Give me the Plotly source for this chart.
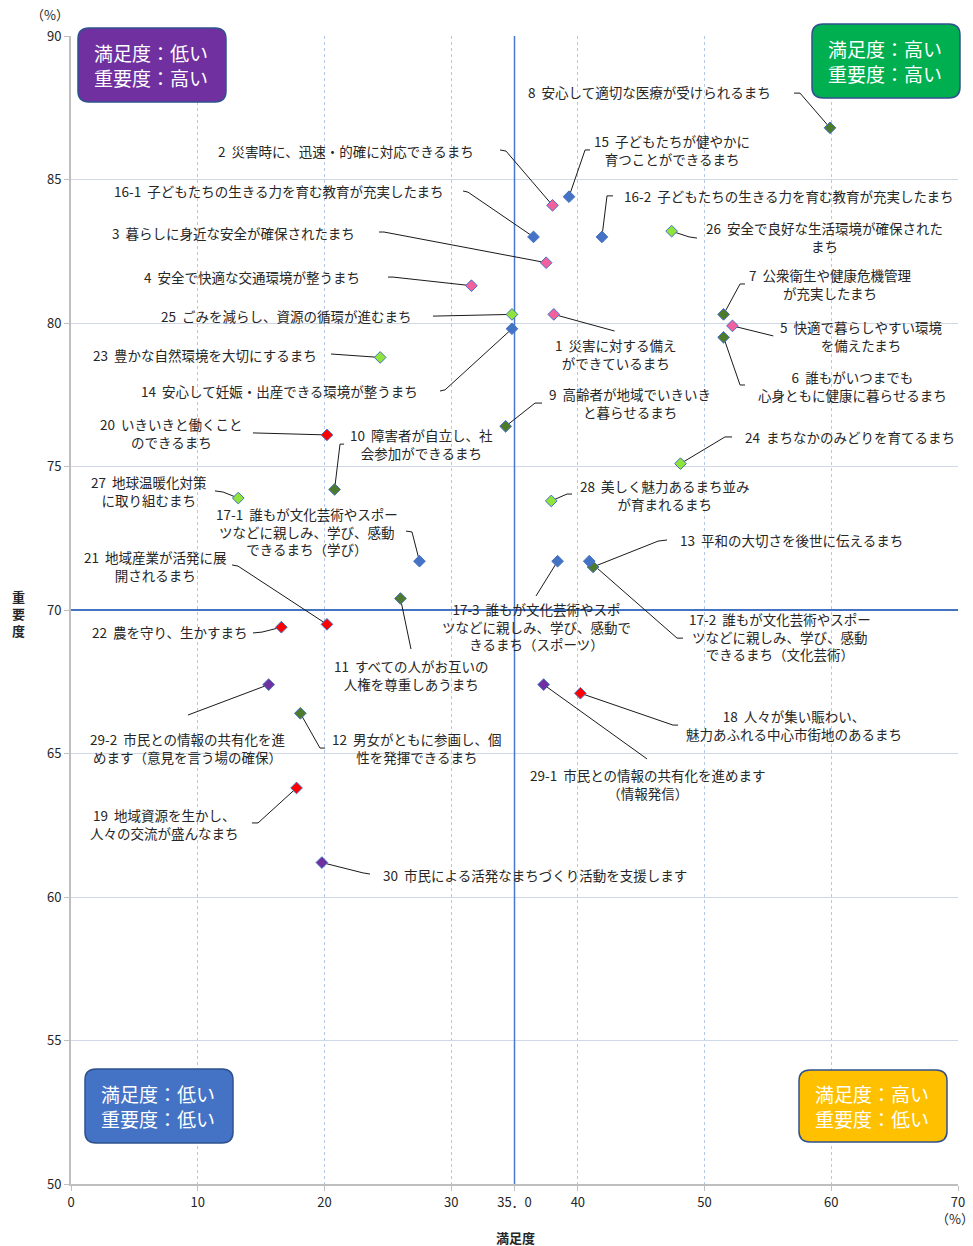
import plotly.graph_objects as go

# -------------------------
# DATA (満足度 / 重要度, %)
# -------------------------
item_ids = ["1", "2", "3", "4", "5",
            "6", "7", "8", "9", "10", "11", "12", "13",
            "14", "15", "16-1", "16-2", "17-1", "17-2", "17-3",
            "18", "19", "20", "21", "22",
            "23", "24", "25", "26", "27", "28",
            "29-1", "29-2", "30"]

satisfaction = [38.1, 38.0, 37.5, 31.6, 52.2,
                51.5, 51.5, 59.9, 34.3, 20.8, 26.0, 18.1, 41.2,
                34.8, 39.3, 36.5, 41.9, 27.5, 40.9, 38.4,
                40.2, 17.8, 20.2, 20.2, 16.6,
                24.4, 48.1, 34.8, 47.4, 13.2, 37.9,
                37.3, 15.6, 19.8]

importance = [80.3, 84.1, 82.1, 81.3, 79.9,
              79.5, 80.3, 86.8, 76.4, 74.2, 70.4, 66.4, 71.5,
              79.8, 84.4, 83.0, 83.0, 71.7, 71.7, 71.7,
              67.1, 63.8, 76.1, 69.5, 69.4,
              78.8, 75.1, 80.3, 83.2, 73.9, 73.8,
              67.4, 67.4, 61.2]

groups = ["pink"] * 5 + ["dgreen"] * 8 + ["blue"] * 7 + ["red"] * 5 + \
         ["lgreen"] * 6 + ["purple"] * 3

labels = [
    "1  災害に対する備え<br>ができているまち",
    "2  災害時に、迅速・的確に対応できるまち",
    "3  暮らしに身近な安全が確保されたまち",
    "4  安全で快適な交通環境が整うまち",
    "5  快適で暮らしやすい環境<br>を備えたまち",
    "6  誰もがいつまでも<br>心身ともに健康に暮らせるまち",
    "7  公衆衛生や健康危機管理<br>が充実したまち",
    "8  安心して適切な医療が受けられるまち",
    "9  高齢者が地域でいきいき<br>と暮らせるまち",
    "10  障害者が自立し、社<br>会参加ができるまち",
    "11  すべての人がお互いの<br>人権を尊重しあうまち",
    "12  男女がともに参画し、個<br>性を発揮できるまち",
    "13  平和の大切さを後世に伝えるまち",
    "14  安心して妊娠・出産できる環境が整うまち",
    "15  子どもたちが健やかに<br>育つことができるまち",
    "16-1  子どもたちの生きる力を育む教育が充実したまち",
    "16-2  子どもたちの生きる力を育む教育が充実したまち",
    "17-1  誰もが文化芸術やスポー<br>ツなどに親しみ、学び、感動<br>できるまち（学び）",
    "17-2  誰もが文化芸術やスポー<br>ツなどに親しみ、学び、感動<br>できるまち（文化芸術）",
    "17-3  誰もが文化芸術やスポ<br>ツなどに親しみ、学び、感動で<br>きるまち（スポーツ）",
    "18  人々が集い賑わい、<br>魅力あふれる中心市街地のあるまち",
    "19  地域資源を生かし、<br>人々の交流が盛んなまち",
    "20  いきいきと働くこと<br>のできるまち",
    "21  地域産業が活発に展<br>開されるまち",
    "22  農を守り、生かすまち",
    "23  豊かな自然環境を大切にするまち",
    "24  まちなかのみどりを育てるまち",
    "25  ごみを減らし、資源の循環が進むまち",
    "26  安全で良好な生活環境が確保された<br>まち",
    "27  地球温暖化対策<br>に取り組むまち",
    "28  美しく魅力あるまち並み<br>が育まれるまち",
    "29-1  市民との情報の共有化を進めます<br>（情報発信）",
    "29-2  市民との情報の共有化を進<br>めます（意見を言う場の確保）",
    "30  市民による活発なまちづくり活動を支援します",
]

x_ticks = [0, 10, 20, 30, 35, 40, 50, 60, 70]
x_tick_text = ["0", "10", "20", "30", "35．0", "40", "50", "60", "70"]
y_ticks = [50, 55, 60, 65, 70, 75, 80, 85, 90]

# -------------------------
# STYLE / LAYOUT
# -------------------------
COLORS = {"pink": "#F2609E", "dgreen": "#4E7A2C", "blue": "#4472C4",
          "red": "#FF0000", "lgreen": "#8FE33B", "purple": "#7030A0"}
FONT = "Noto Sans CJK JP"
W, H = 973, 1246
L, R, T, B = 71, 15, 36, 62

# label placement (axis units): text centre, leader start, leader elbow
label_pos = {
    "1": (43.0, 78.92, 42.9, 79.72, None, None),
    "2": (21.7, 85.99, 33.86, 86.03, 34.33, 85.99),
    "3": (12.82, 83.14, 24.31, 83.17, 24.7, 83.17),
    "4": (14.28, 81.6, 25.02, 81.6, 25.41, 81.6),
    "5": (62.31, 79.55, 55.42, 79.55, None, None),
    "6": (61.64, 77.8, 53.19, 77.84, 52.8, 77.84),
    "7": (59.94, 81.36, 53.19, 81.36, 52.8, 81.36),
    "8": (45.66, 88.05, 57.06, 88.01, 57.53, 88.01),
    "9": (44.12, 77.2, 37.17, 77.21, 36.62, 77.21),
    "10": (27.66, 75.78, 21.55, 75.78, 21.23, 75.78),
    "11": (26.87, 67.74, 26.83, 68.64, None, None),
    "12": (27.27, 65.19, 20.05, 65.19, 19.65, 65.19),
    "13": (56.86, 72.44, 47.04, 72.44, 46.33, 72.4),
    "14": (16.42, 77.63, 29.12, 77.63, 29.52, 77.67),
    "15": (47.43, 86.03, 40.96, 86.03, 40.57, 86.03),
    "16-1": (16.45, 84.6, 30.94, 84.6, 31.33, 84.56),
    "16-2": (56.63, 84.43, 42.77, 84.43, 42.3, 84.43),
    "17-1": (18.59, 72.72, 26.44, 72.75, 26.91, 72.72),
    "17-2": (55.95, 69.06, 48.3, 69.02, 47.83, 69.02),
    "17-3": (36.7, 69.41, 36.7, 70.49, None, None),
    "18": (57.06, 65.98, 47.91, 65.99, 47.51, 65.99),
    "19": (7.38, 62.56, 14.28, 62.58, 14.76, 62.58),
    "20": (7.97, 76.18, 14.36, 76.17, None, None),
    "21": (6.67, 71.53, 12.71, 71.57, 13.18, 71.53),
    "22": (7.81, 69.23, 14.36, 69.2, 15.07, 69.23),
    "23": (10.58, 78.89, 20.52, 78.92, None, None),
    "24": (61.48, 76.03, 52.17, 76.03, 51.61, 76.03),
    "25": (16.97, 80.24, 28.57, 80.24, None, None),
    "26": (59.47, 82.98, 49.4, 82.96, 48.77, 83.0),
    "27": (6.12, 74.13, 11.36, 74.15, 12.0, 74.11),
    "28": (46.88, 74.02, 39.54, 74.04, 39.14, 74.04),
    "29-1": (45.5, 63.95, 45.46, 64.81, None, None),
    "29-2": (9.19, 65.19, 9.23, 66.34, None, None),
    "30": (36.58, 60.77, 23.6, 60.8, 23.04, 60.84),
}

# quadrant boxes: reference pixel box, fill, two text lines
quadrants = [
    ((78, 28, 226, 102), "#7030A0", "満足度：低い<br>重要度：高い"),
    ((812, 24, 960, 98), "#00B050", "満足度：高い<br>重要度：高い"),
    ((85, 1069, 233, 1143), "#4472C4", "満足度：低い<br>重要度：低い"),
    ((799, 1070, 947, 1142), "#FFC000", "満足度：高い<br>重要度：低い"),
]


def px_to_paper(x, y):
    return (x - L) / (W - L - R), (H - B - y) / (H - T - B)


def rounded_box_path(x0, y0, x1, y1, r=11):
    pts = [(x0 + r, y0), (x1 - r, y0), (x1, y0), (x1, y0 + r), (x1, y1 - r),
           (x1, y1), (x1 - r, y1), (x0 + r, y1), (x0, y1), (x0, y1 - r),
           (x0, y0 + r), (x0, y0), (x0 + r, y0)]
    p = [px_to_paper(*q) for q in pts]
    f = lambda q: f"{q[0]:.5f},{q[1]:.5f}"
    return (f"M{f(p[0])} L{f(p[1])} Q{f(p[2])} {f(p[3])} L{f(p[4])} "
            f"Q{f(p[5])} {f(p[6])} L{f(p[7])} Q{f(p[8])} {f(p[9])} "
            f"L{f(p[10])} Q{f(p[11])} {f(p[12])} Z")


fig = go.Figure()

# reference lines (35.0 / 70)
fig.add_shape(type="line", xref="x", yref="y", x0=35, x1=35, y0=50, y1=90,
              line=dict(color="#4A78CC", width=1.5), layer="between")
fig.add_shape(type="line", xref="x", yref="y", x0=0, x1=70, y0=70, y1=70,
              line=dict(color="#4472C4", width=2), layer="between")

# leader lines + labels
for i, key in enumerate(item_ids):
    tx, ty, sx, sy, ex, ey = label_pos[key]
    path = f"M{sx},{sy}"
    if ex is not None:
        path += f" L{ex},{ey}"
    path += f" L{satisfaction[i]},{importance[i]}"
    fig.add_shape(type="path", xref="x", yref="y", path=path,
                  line=dict(color="#1a1a1a", width=1), layer="between")
    fig.add_annotation(x=tx, y=ty, xref="x", yref="y", text=labels[i],
                       showarrow=False, xanchor="center", yanchor="middle",
                       align="center", font=dict(family=FONT, size=13.5, color="#262626"))

# markers, one trace per colour group
for g, col in COLORS.items():
    idx = [i for i, gg in enumerate(groups) if gg == g]
    fig.add_trace(go.Scatter(
        x=[satisfaction[i] for i in idx], y=[importance[i] for i in idx],
        mode="markers", showlegend=False,
        text=[item_ids[i] for i in idx],
        marker=dict(symbol="diamond", size=9, color=col,
                    line=dict(color="#4472C4", width=1))))

# quadrant boxes
for (x0, y0, x1, y1), col, txt in quadrants:
    fig.add_shape(type="path", xref="paper", yref="paper",
                  path=rounded_box_path(x0, y0, x1, y1),
                  fillcolor=col, line=dict(color="#2F528F", width=1.5), layer="above")
    ax, ay = px_to_paper(x0 + 14, (y0 + y1) / 2)
    fig.add_annotation(x=ax, y=ay, xref="paper", yref="paper", text=txt,
                       showarrow=False, xanchor="left", yanchor="middle", align="left",
                       font=dict(family=FONT, size=19, color="white"))

# axis titles and units
for (x, y), txt, bold in [((515, 1237), "満足度", True), ((18, 613), "重<br>要<br>度", True),
                          ((50, 14), "（%）", False), ((955, 1218), "（%）", False)]:
    px_, py_ = px_to_paper(x, y)
    fig.add_annotation(x=px_, y=py_, xref="paper", yref="paper",
                       text=f"<b>{txt}</b>" if bold else txt, showarrow=False,
                       xanchor="center", yanchor="middle", align="center",
                       font=dict(family=FONT, size=13, color="#262626"))

fig.update_layout(
    width=W, height=H, margin=dict(l=L, r=R, t=T, b=B),
    plot_bgcolor="white", paper_bgcolor="white",
    font=dict(family=FONT, size=13, color="#262626"),
)
fig.update_xaxes(range=[0, 70], tickvals=x_ticks, ticktext=x_tick_text, automargin=False,
                 showgrid=True, gridcolor="#B4C7E7", griddash="3px,3px", gridwidth=1,
                 showline=True, linecolor="#BFBFBF", linewidth=2,
                 ticks="outside", ticklen=5, tickcolor="#BFBFBF", zeroline=False)
fig.update_yaxes(range=[50, 90], tickvals=y_ticks, automargin=False,
                 showgrid=True, gridcolor="#D0D8E8", gridwidth=1,
                 showline=True, linecolor="#BFBFBF", linewidth=2,
                 ticks="outside", ticklen=5, tickcolor="#BFBFBF", zeroline=False)

# drop the browser's default body margin so the chart sits at the page origin
fig.write_html("out.html", config={"displayModeBar": False},
               post_script="document.body.style.margin='0';document.body.style.overflow='hidden';")
